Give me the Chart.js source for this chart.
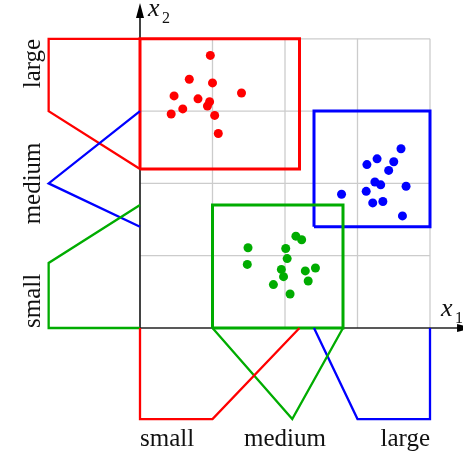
<!DOCTYPE html>
<html>
<head>
<meta charset="utf-8">
<script src="https://cdn.jsdelivr.net/npm/chart.js@4/dist/chart.umd.min.js"></script>
<style>
  html, body { margin: 0; padding: 0; background: #fff; }
  canvas { display: block; }
</style>
</head>
<body>
<canvas id="fuzzyChart" width="463" height="451"></canvas>
<script>
// fuzzy set names (same for both inputs)
var setNames = ['small', 'medium', 'large'];

// membership breakpoints on x1, with membership degree at each one
var x1Small = [0, 0, 1, 2.2];
var x1SmallMu = [0, 1, 1, 0];
var x1Medium = [1, 2.1, 2.8];
var x1MediumMu = [0, 1, 0];
var x1Large = [2.4, 3, 4, 4];
var x1LargeMu = [0, 1, 1, 0];

// membership breakpoints on x2
var x2Small = [0, 0, 0.9, 1.7];
var x2SmallMu = [0, 1, 1, 0];
var x2Medium = [1.4, 2, 3];
var x2MediumMu = [0, 1, 0];
var x2Large = [2.2, 3, 4, 4];
var x2LargeMu = [0, 1, 1, 0];

// sample clusters (x1, x2)
var redX1 = [0.97, 0.68, 1.00, 1.40, 0.47, 0.80, 0.96, 0.93, 0.59, 0.43, 1.03, 1.08];
var redX2 = [3.77, 3.44, 3.39, 3.25, 3.21, 3.17, 3.13, 3.07, 3.03, 2.96, 2.94, 2.69];
var blueX1 = [3.60, 3.27, 3.13, 3.50, 3.43, 3.24, 3.32, 3.67, 3.12, 2.78, 3.21, 3.35, 3.62];
var blueX2 = [2.48, 2.34, 2.26, 2.30, 2.18, 2.02, 1.98, 1.96, 1.89, 1.85, 1.73, 1.75, 1.55];
var greenX1 = [2.15, 2.23, 1.49, 2.01, 2.03, 1.48, 1.95, 2.28, 2.42, 1.98, 2.32, 1.84, 2.07];
var greenX2 = [1.27, 1.22, 1.11, 1.10, 0.96, 0.88, 0.81, 0.79, 0.83, 0.71, 0.65, 0.60, 0.47];

var gridTicks = [0, 1, 2, 3, 4];

var RED = '#ff0000', BLUE = '#0000ff', GREEN = '#00ac00';
var MU_SIZE = 1.26;   // how far a membership of 1 reaches out from the axis

function x1Curve(xs, mu) {
  return xs.map(function (v, i) { return { x: v, y: -MU_SIZE * mu[i] }; });
}
function x2Curve(ys, mu) {
  return ys.map(function (v, i) { return { x: -MU_SIZE * mu[i], y: v }; });
}
// rectangle spanning the supports of an x1 set and an x2 set
function box(xs, ys) {
  var x0 = xs[0], x1 = xs[xs.length - 1], y0 = ys[0], y1 = ys[ys.length - 1];
  return [{x: x0, y: y0}, {x: x1, y: y0}, {x: x1, y: y1}, {x: x0, y: y1}, {x: x0, y: y0}];
}
function cloud(xs, ys) {
  return xs.map(function (v, i) { return { x: v, y: ys[i] }; });
}

function lineSet(points, color, width) {
  return {
    data: points, showLine: true, borderColor: color, borderWidth: width,
    pointRadius: 0, fill: false, tension: 0, clip: false
  };
}
function dotSet(points, color) {
  return {
    data: points, showLine: false, backgroundColor: color, borderWidth: 0,
    pointRadius: 4.5, pointHoverRadius: 4.5
  };
}

// grid, axes, arrows and labels drawn under the datasets
var backdrop = {
  id: 'backdrop',
  beforeDatasetsDraw: function (chart) {
    var c = chart.ctx, sx = chart.scales.x, sy = chart.scales.y;
    var px = function (v) { return sx.getPixelForValue(v); };
    var py = function (v) { return sy.getPixelForValue(v); };
    c.save();
    c.strokeStyle = '#cccccc';
    c.lineWidth = 1.3;
    gridTicks.slice(1).forEach(function (t) {
      c.beginPath(); c.moveTo(px(t), py(0)); c.lineTo(px(t), py(4)); c.stroke();
      c.beginPath(); c.moveTo(px(0), py(t)); c.lineTo(px(4), py(t)); c.stroke();
    });

    // axes with arrow heads
    var ox = px(0), oy = py(0);
    var xTip = px(4.58), yTip = py(4.495);
    c.strokeStyle = '#222';
    c.fillStyle = '#000';
    c.lineWidth = 1.7;
    c.beginPath(); c.moveTo(ox, oy); c.lineTo(xTip - 10, oy); c.stroke();
    c.beginPath(); c.moveTo(ox, oy); c.lineTo(ox, yTip + 10); c.stroke();
    c.beginPath(); c.moveTo(xTip, oy); c.lineTo(xTip - 15, oy - 4); c.lineTo(xTip - 15, oy + 4); c.closePath(); c.fill();
    c.beginPath(); c.moveTo(ox, yTip); c.lineTo(ox - 4, yTip + 15); c.lineTo(ox + 4, yTip + 15); c.closePath(); c.fill();

    // axis names
    c.fillStyle = '#111';
    c.textBaseline = 'alphabetic';
    c.textAlign = 'left';
    c.font = 'italic 26px "Liberation Serif"';
    c.fillText('x', ox + 8, 16);
    c.fillText('x', px(4) + 11, oy - 12);
    c.font = '16px "Liberation Serif"';
    c.fillText('2', ox + 22, 23);
    c.fillText('1', px(4) + 25, oy - 5);

    // set names under the x1 axis
    c.font = '25px "Liberation Serif"';
    var below = oy + 118;
    c.textAlign = 'left';   c.fillText(setNames[0], px(0), below);
    c.textAlign = 'center'; c.fillText(setNames[1], px(2), below);
    c.textAlign = 'right';  c.fillText(setNames[2], px(4), below);

    // set names left of the x2 axis, rotated
    c.translate(40, 0);
    c.rotate(-Math.PI / 2);
    c.textAlign = 'left';   c.fillText(setNames[0], -py(0), 0);
    c.textAlign = 'center'; c.fillText(setNames[1], -py(2), 0);
    c.textAlign = 'right';  c.fillText(setNames[2], -py(4), 0);
    c.restore();
  }
};

var ctx = document.getElementById('fuzzyChart').getContext('2d');
var chart = new Chart(ctx, {
  type: 'scatter',
  data: {
    datasets: [
      lineSet(x1Curve(x1Small, x1SmallMu), RED, 2.3),
      lineSet(x1Curve(x1Medium, x1MediumMu), GREEN, 2.3),
      lineSet(x1Curve(x1Large, x1LargeMu), BLUE, 2.3),
      lineSet(x2Curve(x2Small, x2SmallMu), GREEN, 2.3),
      lineSet(x2Curve(x2Medium, x2MediumMu), BLUE, 2.3),
      lineSet(x2Curve(x2Large, x2LargeMu), RED, 2.3),
      lineSet(box(x1Medium, x2Small), GREEN, 3),
      lineSet(box(x1Large, x2Medium), BLUE, 3),
      lineSet(box(x1Small, x2Large), RED, 3),
      dotSet(cloud(redX1, redX2), RED),
      dotSet(cloud(blueX1, blueX2), BLUE),
      dotSet(cloud(greenX1, greenX2), GREEN)
    ]
  },
  options: {
    responsive: false,
    animation: false,
    devicePixelRatio: 1,
    layout: { padding: 0, autoPadding: false },
    events: [],
    plugins: {
      legend: { display: false },
      tooltip: { enabled: false }
    },
    scales: {
      x: { type: 'linear', display: false, min: -140 / 72.5, max: 323 / 72.5 },
      y: { type: 'linear', display: false, min: -123 / 72.3, max: 328 / 72.3 }
    }
  },
  plugins: [backdrop]
});
</script>
</body>
</html>
